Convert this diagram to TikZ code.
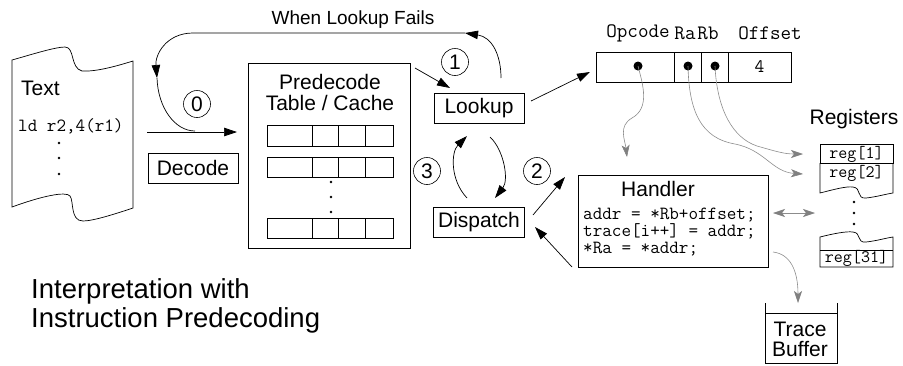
\documentclass[tikz,border=0pt]{standalone}
\usepackage{fontspec}
\setmainfont{Liberation Sans}
\usetikzlibrary{arrows.meta}

\tikzset{
  lbl/.style={font=\fontsize{21}{24}\selectfont, inner sep=0pt},
  box/.style={draw, line width=0.8pt, lbl, minimum height=30pt},
  num/.style={draw, circle, line width=0.6pt, minimum size=27pt, inner sep=0pt,
              font=\fontsize{21}{22}\selectfont},
  arr/.style={line width=0.7pt, -{Triangle[length=13pt,width=8.5pt]}},
  ghead/.style={Stealth[length=12pt,width=8pt,inset=3pt,color=black!50,fill=black!50]},
  garr/.style={black!45, line width=0.6pt, -{Stealth[length=12pt,width=8pt,inset=3pt,color=black!50,fill=black!50]}},
  gboth/.style={black!45, line width=0.6pt,
                {Stealth[length=12pt,width=8pt,inset=3pt,color=black!50,fill=black!50]}-{Stealth[length=12pt,width=8pt,inset=3pt,color=black!50,fill=black!50]}},
  code/.style={font=\ttfamily\fontsize{18.6}{18.6}\selectfont, inner sep=0pt},
  regtxt/.style={font=\ttfamily\fontsize{17.5}{18}\selectfont, inner sep=0pt},
  hdr/.style={font=\ttfamily\fontsize{20.5}{21}\selectfont, inner sep=0pt},
  thin/.style={line width=0.7pt},
  dotmark/.style={fill, circle, inner sep=0pt, minimum size=2.8pt},
}

\begin{document}
\begin{tikzpicture}[x=1pt, y=-1pt]
\useasboundingbox (0,0) rectangle (903,365);

% ---------- source text sheet ----------
\draw[thin] (12,60) .. controls (30,55) and (55,47) .. (65,47)
  .. controls (75,47) and (70,68) .. (82,71)
  .. controls (97,72) and (120,65) .. (133,61) -- (133,208)
  .. controls (115,214) and (93,221) .. (83,221)
  .. controls (70,221) and (74,201) .. (70,196)
  .. controls (66,191) and (42,196) .. (12,207) -- cycle;
\node[lbl, anchor=west] (txt) at (21,88) {Text};
\node[code, anchor=west] (ld) at (18,126) {ld r2,4(r1)};
\node[dotmark] (td1) at (59,143) {};
\node[dotmark] (td2) at (59,158) {};
\node[dotmark] (td3) at (59,174) {};

% ---------- decode ----------
\node[box, minimum width=90pt] (decode) at (193,168) {Decode};
\coordinate (decin) at (147,132);
\coordinate (decout) at (237,132);
\draw[arr] (decin) -- (decout);
\node[num] (c0) at (197,104) {0};

% ---------- predecode table ----------
\node[draw, thin, minimum width=162pt, minimum height=185pt, inner sep=0pt]
  (table) at (329,155.5) {};
\node[lbl] (tt1) at (330,82) {Predecode};
\node[lbl] (tt2) at (330,103) {Table / Cache};
\foreach \ya/\yb in {125/146, 157/177, 218/238}{
  \draw[thin] (267,\ya) rectangle (393,\yb);
  \foreach \xx in {312,338,365} \draw[thin] (\xx,\ya) -- (\xx,\yb);
}
\node[dotmark] (pd1) at (331,182) {};
\node[dotmark] (pd2) at (331,197) {};
\node[dotmark] (pd3) at (331,212) {};

% ---------- lookup / dispatch ----------
\node[box, minimum width=90pt] (lookup) at (479,108) {Lookup};
\node[box, minimum width=91pt] (dispatch) at (479,222) {Dispatch};
\node[num] (c1) at (455,62) {1};
\node[num] (c3) at (427,171) {3};
\node[num] (c2) at (537,171) {2};

\coordinate (tabout) at (415,68);
\coordinate (lkin) at (450,88);
\draw[arr] (tabout) -- (lkin);

% failed lookup goes back to decoding
\coordinate (lktop) at (501,78);
\coordinate (failR) at (465,33);
\coordinate (failL) at (193,33);
\coordinate (failM) at (157,78);
\coordinate (failJ) at (195,131);
\node[font=\fontsize{19}{20}\selectfont, inner sep=0pt] (fail) at (353,20) {When Lookup Fails};
\draw[arr] (lktop) .. controls (501,55) and (492,37) .. (failR);
\draw[arr] (failR) -- (failL) .. controls (166,33) and (155,55) .. (failM);
\draw[thin] (failM) .. controls (158,108) and (175,131) .. (failJ);

% lookup <-> dispatch
\coordinate (ld1) at (490,137);
\coordinate (ld2) at (495,198);
\coordinate (dl1) at (467,198);
\coordinate (dl2) at (467,136);
\draw[arr] (ld1) .. controls (504,150) and (509,180) .. (ld2);
\draw[arr] (dl1) .. controls (450,180) and (451,152) .. (dl2);

% ---------- instruction record ----------
\node[draw, thin, minimum width=78pt, minimum height=30pt, inner sep=0pt] (opc) at (635,67) {};
\node[draw, thin, minimum width=27pt, minimum height=30pt, inner sep=0pt] (ra) at (687.5,67) {};
\node[draw, thin, minimum width=27pt, minimum height=30pt, inner sep=0pt] (rb) at (714.5,67) {};
\node[draw, thin, minimum width=63pt, minimum height=30pt, inner sep=0pt,
      font=\ttfamily\fontsize{19}{19}\selectfont] (off) at (759.5,67) {4};
\node[hdr] (hop) at (638,33) {Opcode};
\node[hdr] (hra) at (685,33) {Ra};
\node[hdr] (hrb) at (708,33) {Rb};
\node[hdr] (hof) at (770,33) {Offset};
\node[fill, circle, inner sep=0pt, minimum size=9pt] (dop) at (638,66) {};
\node[fill, circle, inner sep=0pt, minimum size=9pt] (dra) at (688,66) {};
\node[fill, circle, inner sep=0pt, minimum size=9pt] (drb) at (715,66) {};

\coordinate (lkout) at (531,101);
\coordinate (opin) at (590,72);
\draw[arr] (lkout) -- (opin);

% ---------- handler ----------
\node[draw, thin, minimum width=190pt, minimum height=92pt, inner sep=0pt] (handler) at (673,221) {};
\node[lbl] (hname) at (658,189) {Handler};
\node[code, anchor=base west] (cl1) at (583,219.5) {addr = *Rb+offset;};
\node[code, anchor=base west] (cl2) at (583,236.5) {trace[i++] = addr;};
\node[code, anchor=base west] (cl3) at (583,253.5) {*Ra = *addr;};

\coordinate (dh1) at (533,215);
\coordinate (dh2) at (565,177);
\coordinate (hd1) at (572,267);
\coordinate (hd2) at (535,227);
\draw[arr] (dh1) -- (dh2);
\draw[arr] (hd1) -- (hd2);

% ---------- register file ----------
\node[lbl] (regs) at (854,119) {Registers};
\draw[thin] (820,144) rectangle (893,163);
\draw[thin] (820,163) -- (820,193)
  .. controls (832,190) and (846,186) .. (853,187)
  .. controls (862,188) and (856,199) .. (866,198)
  .. controls (876,197) and (886,194) .. (893,193) -- (893,163);
\draw[thin] (820,267) -- (820,237)
  .. controls (832,234) and (846,231) .. (853,232)
  .. controls (862,233) and (856,243) .. (866,242)
  .. controls (876,241) and (886,238) .. (893,237) -- (893,267) -- cycle;
\draw[thin] (820,250) -- (893,250);
\node[regtxt] (r1) at (856.5,154) {reg[1]};
\node[regtxt] (r2) at (856.5,173) {reg[2]};
\node[regtxt] (r31) at (856.5,258.5) {reg[31]};
\node[dotmark] (rd1) at (854,202) {};
\node[dotmark] (rd2) at (854,213) {};
\node[dotmark] (rd3) at (854,224) {};

% pointer-style references
\coordinate (hin) at (627,157);
\coordinate (r1in) at (803,154);
\coordinate (r2in) at (803,174);
\draw[garr] (dop.center) .. controls (643,85) and (650,108) .. (632,118)
  .. controls (618,126) and (625,140) .. (hin);
\draw[garr] (dra.center) .. controls (689,110) and (700,138) .. (735,144)
  .. controls (765,150) and (772,172) .. (r2in);
\draw[garr] (drb.center) .. controls (717,110) and (733,138) .. (757,146)
  .. controls (778,152) and (785,154) .. (r1in);

\coordinate (hr1) at (773,213);
\coordinate (hr2) at (815,213);
\draw[gboth] (hr1) -- (hr2);

% ---------- trace buffer ----------
\draw[thin] (765,303) -- (765,363.5) -- (837,363.5) -- (837,303);
\draw[thin] (765,313) -- (837,313);
\node[lbl] (tb1) at (800,329) {Trace};
\node[lbl] (tb2) at (800,349) {Buffer};
\coordinate (hout) at (773,252);
\coordinate (tbin) at (798,303);
\draw[garr] (hout) .. controls (790,254) and (798,270) .. (tbin);

% ---------- caption ----------
\node[font=\fontsize{27.5}{29}\selectfont, inner sep=0pt, anchor=west] (cap1) at (31,291) {Interpretation with};
\node[font=\fontsize{27.5}{29}\selectfont, inner sep=0pt, anchor=west] (cap2) at (31,320) {Instruction Predecoding};
\end{tikzpicture}
\end{document}
